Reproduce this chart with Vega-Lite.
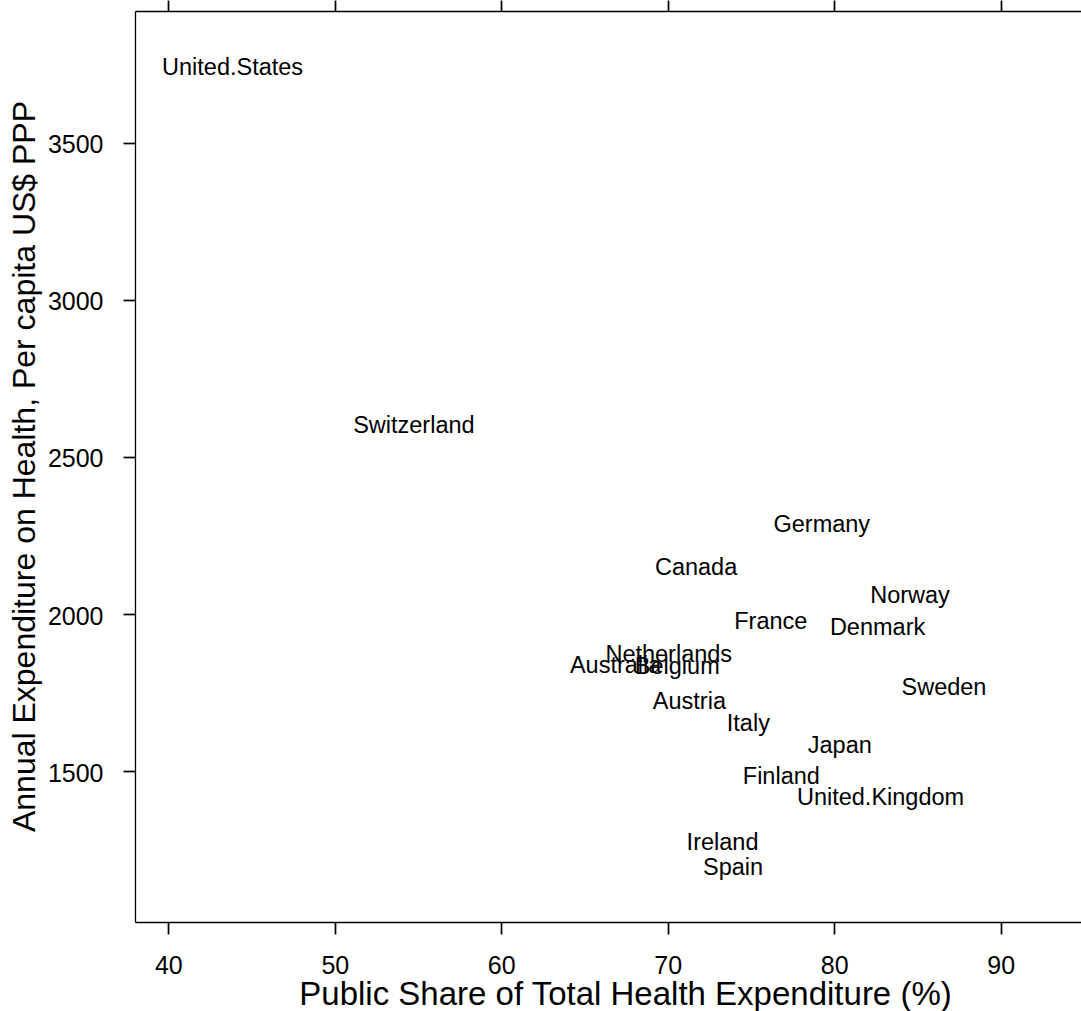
{
  "$schema": "https://vega.github.io/schema/vega-lite/v6.json",
  "autosize": {"type": "none"},
  "padding": {"left": 135, "top": 11, "right": 0, "bottom": 89},
  "width": 946,
  "height": 911,
  "background": "white",
  "config": {
    "view": {"stroke": null},
    "font": "Liberation Sans",
    "axis": {
      "grid": false,
      "domainColor": "black",
      "tickColor": "black",
      "labelColor": "black",
      "titleColor": "black",
      "domainWidth": 1.3,
      "tickWidth": 1.7,
      "labelFont": "Liberation Sans",
      "titleFont": "Liberation Sans",
      "labelFontSize": 25,
      "titleFontWeight": "normal",
      "labelFlush": false,
      "labelOverlap": false
    }
  },
  "data": {
    "values": [
      {"country": "United.States", "public_share": 43.86, "expenditure": 3742},
      {"country": "Switzerland", "public_share": 54.75, "expenditure": 2602},
      {"country": "Germany", "public_share": 79.25, "expenditure": 2288},
      {"country": "Canada", "public_share": 71.70, "expenditure": 2150},
      {"country": "Norway", "public_share": 84.55, "expenditure": 2063},
      {"country": "France", "public_share": 76.19, "expenditure": 1981},
      {"country": "Denmark", "public_share": 82.60, "expenditure": 1960},
      {"country": "Netherlands", "public_share": 70.06, "expenditure": 1875},
      {"country": "Australia", "public_share": 66.87, "expenditure": 1838},
      {"country": "Belgium", "public_share": 70.57, "expenditure": 1835},
      {"country": "Austria", "public_share": 71.30, "expenditure": 1724},
      {"country": "Italy", "public_share": 74.84, "expenditure": 1655},
      {"country": "Sweden", "public_share": 86.59, "expenditure": 1770},
      {"country": "Japan", "public_share": 80.33, "expenditure": 1586},
      {"country": "Finland", "public_share": 76.82, "expenditure": 1486},
      {"country": "United.Kingdom", "public_share": 82.78, "expenditure": 1419},
      {"country": "Ireland", "public_share": 73.29, "expenditure": 1276},
      {"country": "Spain", "public_share": 73.92, "expenditure": 1196}
    ]
  },
  "resolve": {"axis": {"x": "independent"}},
  "layer": [
    {
      "mark": {"type": "text", "fontSize": 23.5, "baseline": "alphabetic", "dy": 8.4, "color": "black", "font": "Liberation Sans"},
      "encoding": {
        "x": {
          "field": "public_share", "type": "quantitative",
          "scale": {"domain": [38, 94.82], "nice": false, "zero": false},
          "axis": {
            "orient": "bottom", "values": [40, 50, 60, 70, 80, 90],
            "tickSize": 12, "labelPadding": 19,
            "title": "Public Share of Total Health Expenditure (%)",
            "titleFontSize": 33, "titleBaseline": "alphabetic", "titleAlign": "center",
            "titleX": 490, "titleY": 82
          }
        },
        "y": {
          "field": "expenditure", "type": "quantitative",
          "scale": {"domain": [1020.5, 3919], "nice": false, "zero": false},
          "axis": {
            "values": [1500, 2000, 2500, 3000, 3500], "format": "d",
            "tickSize": 12, "labelPadding": 20, "labelOffset": 2,
            "title": "Annual Expenditure on Health, Per capita US$ PPP",
            "titleFontSize": 32, "titleAngle": -90, "titleBaseline": "alphabetic",
            "titleAlign": "center", "titleX": -101, "titleY": 455
          }
        },
        "text": {"field": "country"}
      }
    },
    {
      "mark": {"type": "point", "opacity": 0},
      "encoding": {
        "x": {
          "field": "public_share", "type": "quantitative",
          "axis": {"orient": "top", "values": [40, 50, 60, 70, 80, 90], "tickSize": 11, "labels": false, "title": null}
        }
      }
    }
  ]
}
